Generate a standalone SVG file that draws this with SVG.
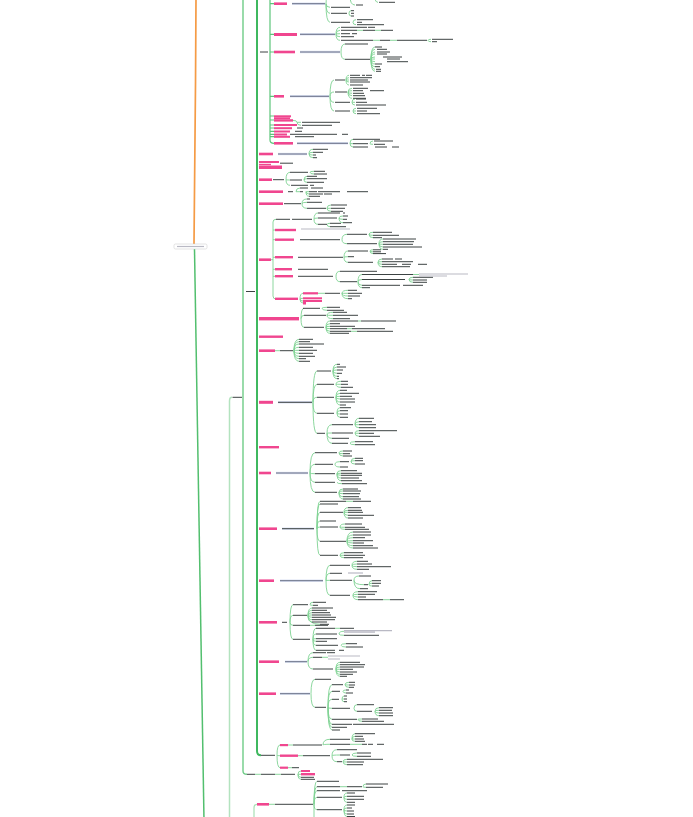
<svg xmlns="http://www.w3.org/2000/svg" width="693" height="817" viewBox="0 0 693 817">
<style>
.t{stroke:#3c4343;stroke-width:1;fill:none}
.g{stroke:#7fd393;stroke-width:0.9;fill:none}
.u{stroke:#dce2f4;stroke-width:2.4;fill:none}
.v{stroke:#4a5068;stroke-width:0.8;fill:none}
.x{stroke:#b9b9c4;stroke-width:1.2;fill:none}
.p{fill:#f0468f}
</style>
<rect width="693" height="817" fill="#ffffff"/>
<g id="connectors">
<path d="M196 -2C195.6 80 195 170 194 244" stroke="#f59b45" stroke-width="1.7" fill="none"/>
<path d="M194.5 249C196 400 200 600 204 820" stroke="#52bf6e" stroke-width="1.5" fill="none"/>
<path d="M232 397.3Q229.5 397.3 229.5 401V820" stroke="#b3e3bf" stroke-width="1.5" fill="none"/>
<path d="M243 -2V771Q243 774.3 247 774.3" stroke="#6fcc87" stroke-width="1.4" fill="none"/>
<path d="M257 -2V751Q257 755.3 261 755.3" stroke="#3fb85f" stroke-width="2" fill="none"/>
<path d="M270 -2V140Q270 143.3 274 143.3M270 3.7H274M270 34.3H274M270 52H274M270 96.3H274M270 116H274M270 120H274M270 125H274M270 128H274M270 131.3H274M270 134.3H274M270 136.7H274" stroke="#5cc57a" stroke-width="1.2" fill="none"/>
<path d="M257 804.3Q254 804.3 254 808V820" stroke="#a8e0b5" stroke-width="1.2" fill="none"/>
<path class="t" d="M232.5 397.3H242M246 291.5H255M260 52H268"/>
</g>
<g id="root">
<rect x="174" y="244" width="33" height="5" rx="1.5" fill="#ffffff" stroke="#d0d0d0" stroke-width="0.6"/>
<path class="x" d="M177 246.5H204" stroke-width="1"/>
</g>
<g id="n-a">
<rect class="p" x="274" y="2.4" width="13" height="2.6"/>
<path class="u" d="M292 3.7H325"/><path class="v" d="M292 3.7H325"/>
<path class="g" d="M326 3.7Q326 -4 330 -4M326 3.7Q326 7.3 330 7.3M326 3.7Q326 13.3 330 13.3M326 3.7Q326 22.3 330 22.3M349 13.3Q349 10.7 351 10.7M349 13.3Q349 16 351 16M353 22.3Q353 19.7 356 19.7M353 22.3Q353 24.7 356 24.7M350 -4Q350 5 355 5M375 -3Q375 2.3 378 2.3"/>
<path class="t" d="M331 7.3H350M331 13.3H347M351 10.7H354M351 13.3H354M351 16H354M331 22.3H350M357 19.7H373M357 22.3H362M357 24.7H384M356 5H363M379 2.3H395"/>
</g>
<g id="n-b">
<rect class="p" x="274" y="33" width="23" height="3"/>
<path class="u" d="M300 34.3H335"/><path class="v" d="M300 34.3H335"/>
<path class="g" d="M336 34.3Q336 27.3 340 27.3M336 34.3Q336 30.3 340 30.3M336 34.3Q336 33.7 340 33.7M336 34.3Q336 36.7 340 36.7M336 34.3Q336 40.3 340 40.3M428 40.3Q428 39.3 431 39.3M428 40.3Q428 41.7 431 41.7M373 40.3H380M390 40.3H397M357 30.3H363M375 30.3H381"/>
<path class="t" d="M341 27.3H367M368 27.3H375M341 30.3H357M363 30.3H375M381 30.3H393M341 33.7H350M352 33.7H357M341 36.7H354M341 40.3H373M380 40.3H390M397 40.3H427M432 39.3H453M432 41.7H437"/>
</g>
<g id="n-c">
<rect class="p" x="274" y="50.7" width="21" height="2.6"/>
<path class="u" d="M300 52H340"/><path class="v" d="M300 52H340"/>
<path class="g" d="M341 52Q341 44 345 44M341 52Q341 59.3 345 59.3M371 59.3Q371 47 375 47M371 59.3Q371 49.3 375 49.3M371 59.3Q371 52 375 52M371 59.3Q371 54 375 54M371 59.3Q371 57 375 57M371 59.3Q371 59 375 59M371 59.3Q371 61.7 375 61.7M371 59.3Q371 64 375 64M371 59.3Q371 66.7 375 66.7M371 59.3Q371 69.3 375 69.3M371 59.3Q371 71.3 375 71.3"/>
<path class="t" d="M345 44H368M345 59.3H370M375 47H382M377 49.3H387M377 52H390M377 54H387M383 57H402M387 59H400M387 61.7H408M375 64H382M375 66.7H380M376 69.3H381M376 71.3H381"/>
</g>
<g id="n-d">
<rect class="p" x="274" y="95" width="10" height="2.6"/>
<path class="u" d="M290 96.3H329"/><path class="v" d="M290 96.3H329"/>
<path class="g" d="M330 96.3Q330 80 334 80M330 96.3Q330 92 334 92M330 96.3Q330 102.3 334 102.3M330 96.3Q330 111 334 111M346 80Q346 75.3 349 75.3M346 80Q346 77.7 349 77.7M346 80Q346 80 349 80M346 80Q346 82 349 82M346 80Q346 85 349 85M348 92Q348 88.3 352 88.3M348 92Q348 90.7 352 90.7M348 92Q348 93.3 352 93.3M348 92Q348 95.7 352 95.7M348 92Q348 98.3 352 98.3M352 102.3Q352 99 355 99M352 102.3Q352 102.3 355 102.3M352 102.3Q352 105 355 105M353 111Q353 108.3 356 108.3M353 111Q353 111 356 111M353 111Q353 113.7 356 113.7"/>
<path class="t" d="M335 80H345M350 75.3H360M362 75.3H365M366 75.3H372M350 77.7H372M350 80H368M350 82H370M350 85H363M335 92H347M353 88.3H368M353 90.7H363M370 90.7H384M353 93.3H364M353 95.7H365M353 98.3H366M335 102.3H350M356 99H366M356 102.3H367M356 105H386M335 111H350M357 108.3H377M357 111H367M357 113.7H380"/>
</g>
<g id="n-stack">
<rect class="p" x="274" y="115.3" width="17" height="2"/>
<rect class="p" x="274" y="117.3" width="16" height="1.8"/>
<rect class="p" x="274" y="119.2" width="19" height="2.4"/>
<rect class="p" x="274" y="124" width="23" height="2"/>
<rect class="p" x="274" y="127.2" width="18" height="2"/>
<rect class="p" x="274" y="130.5" width="16" height="2"/>
<rect class="p" x="274" y="133.5" width="13" height="2"/>
<rect class="p" x="274" y="135.8" width="16" height="2"/>
<path class="g" d="M293 120.4Q297 120.4 297 122.3H301M297 122.3Q297 125.3 301 125.3"/>
<path class="t" d="M302 122.3H340M302 125.3H332M297 128H303M295 131.3H302M290 134.3H337M342 134.3H348M295 136.7H314"/>
</g>
<g id="n-e">
<rect class="p" x="274" y="142" width="19" height="2.6"/>
<path class="u" d="M297 143.3H348"/><path class="v" d="M297 143.3H348"/>
<path class="g" d="M350 143.3Q350 139.3 353 139.3M350 143.3Q350 143.7 353 143.7M350 143.3Q350 147 353 147M370 143.7Q370 141 373 141M370 143.7Q370 144.3 373 144.3"/>
<path class="t" d="M353 139.3H380M353 143.7H368M374 141H393M374 144.3H385M353 147H368M375 147H387M392 147H399"/>
</g>
<g id="n-154">
<rect class="p" x="259" y="152.7" width="14" height="2.6"/>
<path class="u" d="M278 154H307"/><path class="v" d="M278 154H307"/>
<path class="g" d="M309 154Q309 149.3 313 149.3M309 154Q309 152.3 313 152.3M309 154Q309 155 313 155M309 154Q309 157.7 313 157.7"/>
<path class="t" d="M313 149.3H328M313 152.3H323M313 155H316M313 157.7H317"/>
</g>
<g id="n-165">
<rect class="p" x="259" y="161" width="20" height="2"/>
<rect class="p" x="259" y="163.8" width="12" height="1.4"/>
<rect class="p" x="259" y="165.5" width="23" height="3.5"/>
<path class="t" d="M280 163.2H293"/>
</g>
<g id="n-180">
<rect class="p" x="259" y="178.4" width="13" height="2.6"/>
<path class="g" d="M286 179.7Q286 172.3 290 172.3M286 179.7Q286 180 290 180M286 179.7Q286 185.3 290 185.3M310 172.3Q310 171.3 314 171.3M310 172.3Q310 174 314 174M304 180Q304 176.3 307 176.3M304 180Q304 178.7 307 178.7M304 180Q304 182.3 307 182.3"/>
<path class="t" d="M273 179.7H284M290 172.3H308M314 171.3H325M314 174H327M290 180H302M307 176.3H317M307 178.7H327M307 182.3H324M291 185.3H308M310 185.3H314"/>
</g>
<g id="n-192">
<rect class="p" x="259" y="190.4" width="24" height="2.6"/>
<path class="g" d="M296 191.7Q296 188 300 188M296 191.7Q296 191.7 300 191.7M306 191.7Q306 191.7 309 191.7M306 191.7Q306 194 309 194M306 191.7Q306 196.3 309 196.3"/>
<path class="t" d="M288 191.7H293M300 188H308M311 188H323M300 191.7H303M309 191.7H317M318 191.7H340M347 191.7H368M309 194H323M324 194H332M309 196.3H320"/>
</g>
<g id="n-204">
<rect class="p" x="259" y="202.4" width="24" height="2.6"/>
<path class="g" d="M302 203.7Q302 199 307 199M302 203.7Q302 202.3 307 202.3M302 203.7Q302 208.3 307 208.3M327 208.3Q327 205 331 205M327 208.3Q327 208.3 331 208.3M327 208.3Q327 211.3 331 211.3"/>
<path class="t" d="M284 203.7H301M307 199H310M307 202.3H322M307 208.3H326M331 205H347M331 208.3H345M331 211.3H343"/>
</g>
<g id="n-260">
<rect class="p" x="259" y="258.4" width="12" height="2.6"/>
<path class="g" d="M271 259.7H273M276 219.3Q273 219.3 273 222V296Q273 299 276 299M273 230H275M273 239.7H275M273 257.3H275M273 269.3H275M273 276.3H275"/>
<path class="g" d="M314 219.3Q314 213 318 213M314 219.3Q314 218 318 218M314 219.3Q314 224.3 318 224.3M339 218Q339 216 343 216M339 218Q339 219.3 343 219.3M339 218Q339 222.7 343 222.7M327 224.3Q327 223.3 330 223.3M327 224.3Q327 226.7 330 226.7"/>
<path class="t" d="M276 219.3H290M292 219.3H312M318 213H340M343 213H345M318 218H337M343 216H348M343 219.3H347M343 222.7H352M318 224.3H327M330 223.3H341M330 226.7H346"/>
<rect class="p" x="275" y="228.8" width="21" height="2.4"/>
<path class="x" d="M301 229H350"/>
<rect class="p" x="275" y="238.5" width="19" height="2.4"/>
<path class="g" d="M342 239.7Q342 234.3 347 234.3M342 239.7Q342 243.7 347 243.7M369 234.3Q369 232.3 373 232.3M369 234.3Q369 235.3 373 235.3M369 234.3Q369 237.7 373 237.7M379 243.7Q379 239 383 239M379 243.7Q379 241.7 383 241.7M379 243.7Q379 244.3 383 244.3M379 243.7Q379 247 383 247M379 243.7Q379 249.3 383 249.3"/>
<path class="t" d="M300 239.7H340M347 234.3H367M373 232.3H392M373 235.3H399M373 237.7H382M347 243.7H377M383 239H416M383 241.7H414M383 244.3H413M383 247H422M383 249.3H388"/>
<rect class="p" x="275" y="256" width="18" height="2.4"/>
<path class="g" d="M344 257.3Q344 251 348 251M344 257.3Q344 256.7 348 256.7M344 257.3Q344 262.3 348 262.3M370 251Q370 249.8 373 249.8M370 251Q370 251.8 373 251.8M370 251Q370 253.6 373 253.6M378 262.3Q378 259 382 259M378 262.3Q378 261.7 382 261.7M378 262.3Q378 264.3 382 264.3M378 262.3Q378 266.7 382 266.7"/>
<path class="t" d="M298 257.3H343M348 251H368M373 249.8H381M373 251.8H381M373 253.6H386M348 256.7H354M348 262.3H373M382 259H393M395 259H402M382 261.7H413M382 264.3H397M402 264.3H411M418 264.3H427M382 266.7H410"/>
<rect class="p" x="275" y="268" width="17" height="2.4"/>
<path class="t" d="M298 269.3H328"/>
<rect class="p" x="275" y="275" width="18" height="2.4"/>
<path class="g" d="M336 276.3Q336 271.3 340 271.3M336 276.3Q336 281.7 340 281.7M358 281.7Q358 274.5 362 274.5M358 281.7Q358 279.5 362 279.5M358 281.7Q358 285.3 362 285.3M358 281.7Q358 287.7 362 287.7M409 279.5Q409 277.3 413 277.3M409 279.5Q409 280 413 280M409 279.5Q409 282.3 413 282.3M413 274.5H419"/>
<path class="t" d="M298 276.3H333M340 271.3H377M340 281.7H357M362 274.5H413M362 279.5H405M413 277.3H433M413 280H427M413 282.3H427M362 285.3H400M403 285.3H423M362 287.7H370"/>
<path class="x" d="M419 274H468M419 276H447"/>
<rect class="p" x="275" y="297.6" width="23" height="2.4"/>
<path class="g" d="M300 299Q300 293.3 303 293.3M300 299Q300 298.3 303 298.3M300 299Q300 301 303 301M300 299Q300 303 303 303M318 293.3H325M342 293.3Q342 290.3 348 290.3M342 293.3Q342 293.3 348 293.3M342 293.3Q342 296 348 296M342 293.3Q342 298.7 348 298.7"/>
<rect class="p" x="303" y="292.2" width="15" height="2.2"/>
<rect class="p" x="303" y="297.3" width="19" height="2"/>
<rect class="p" x="303" y="300" width="19" height="2"/>
<rect class="p" x="303" y="302" width="3" height="2.5"/>
<path class="t" d="M325 293.3H340M348 290.3H357M348 293.3H362M348 296H360M348 298.7H352"/>
</g>
<g id="n-318">
<rect class="p" x="259" y="317" width="40" height="3.4"/>
<path class="g" d="M301 318.7Q301 308.3 304 308.3M301 318.7Q301 315.3 304 315.3M301 318.7Q301 327.3 304 327.3M322 308.3Q322 307.3 327 307.3M322 308.3Q322 310.3 327 310.3M327 315.3Q327 312.3 333 312.3M327 315.3Q327 315.3 333 315.3M327 315.3Q327 318.7 333 318.7M326 327.3Q326 321 330 321M326 327.3Q326 323.7 330 323.7M326 327.3Q326 326.3 330 326.3M326 327.3Q326 328.7 330 328.7M326 327.3Q326 331.3 330 331.3M326 327.3Q326 333.3 330 333.3M358 321H361M347 328.7H352M351 331.3H357"/>
<path class="t" d="M303 308.3H320M327 307.3H340M327 310.3H344M304 315.3H326M333 312.3H347M333 315.3H358M333 318.7H350M304 327.3H324M330 321H358M361 321H396M330 323.7H340M330 326.3H355M330 328.7H347M352 328.7H385M330 331.3H351M357 331.3H393M330 333.3H349"/>
</g>
<g id="n-337">
<rect class="p" x="259" y="335.5" width="24" height="2.4"/>
</g>
<g id="n-351">
<rect class="p" x="259" y="349.4" width="16" height="2.6"/>
<path class="g" d="M275 350.7H280M294 350.7Q294 339.3 299 339.3M294 350.7Q294 341.7 299 341.7M294 350.7Q294 344 299 344M294 350.7Q294 347.3 299 347.3M294 350.7Q294 350.3 299 350.3M294 350.7Q294 353.3 299 353.3M294 350.7Q294 356.3 299 356.3M294 350.7Q294 358.7 299 358.7M294 350.7Q294 361.3 299 361.3"/>
<path class="t" d="M280 350.7H293M299 339.3H313M299 341.7H310M299 344H324M299 347.3H313M299 350.3H317M299 353.3H313M299 356.3H315M299 358.7H306M299 361.3H310"/>
</g>
<g id="n-402">
<rect class="p" x="259" y="400.8" width="14" height="3"/>
<path class="u" d="M278 402.3H312"/>
<path class="g" d="M313 402.3Q313 371 317 371M313 402.3Q313 384.3 317 384.3M313 402.3Q313 397.3 317 397.3M313 402.3Q313 413.3 317 413.3M313 402.3Q313 433.3 317 433.3M333 371Q333 364.3 337 364.3M333 371Q333 367 337 367M333 371Q333 370 337 370M333 371Q333 373.3 337 373.3M333 371Q333 376.3 337 376.3M333 371Q333 378.7 337 378.7M336 384.3Q336 381.3 341 381.3M336 384.3Q336 384.3 341 384.3M336 384.3Q336 387.3 341 387.3M336 397.3Q336 390.3 340 390.3M336 397.3Q336 393.3 340 393.3M336 397.3Q336 396.3 340 396.3M336 397.3Q336 399 340 399M336 397.3Q336 402 340 402M336 397.3Q336 405 340 405M337 413.3Q337 407.7 340 407.7M337 413.3Q337 410.7 340 410.7M337 413.3Q337 414 340 414M337 413.3Q337 417.3 340 417.3M327 433.3Q327 424.7 332 424.7M327 433.3Q327 433 332 433M327 433.3Q327 438.3 332 438.3M327 433.3Q327 443.3 332 443.3M355 424.7Q355 418.3 359 418.3M355 424.7Q355 421.7 359 421.7M355 424.7Q355 424.7 359 424.7M355 424.7Q355 427.7 359 427.7M355 433Q355 430.7 359 430.7M355 433Q355 433.3 359 433.3M355 433Q355 436.3 359 436.3M350 443.3Q350 441.7 355 441.7M350 443.3Q350 444.7 355 444.7"/>
<path class="t" d="M278 402.3H312M317 371H331M337 364.3H340M337 367H346M337 370H343M337 373.3H342M337 376.3H339M337 378.7H339M317 384.3H334M341 381.3H348M341 384.3H348M341 387.3H353M317 397.3H334M340 390.3H347M340 393.3H359M340 396.3H352M340 399H355M340 402H355M340 405H346M317 413.3H334M340 407.7H351M340 410.7H348M340 414H348M340 417.3H348M317 433.3H325M332 424.7H353M359 418.3H374M359 421.7H372M359 424.7H376M359 427.7H376M332 433H353M359 430.7H397M359 433.3H374M359 436.3H380M332 438.3H349M332 443.3H348M355 441.7H373M355 444.7H375"/>
</g>
<g id="n-447">
<rect class="p" x="259" y="446" width="20" height="2.4"/>
</g>
<g id="n-473">
<rect class="p" x="259" y="471.7" width="12" height="2.6"/>
<path class="u" d="M276 473H308"/><path class="v" d="M276 473H308"/>
<path class="g" d="M310 473Q310 452.7 315 452.7M310 473Q310 464.3 315 464.3M310 473Q310 473.7 315 473.7M310 473Q310 482.3 315 482.3M310 473Q310 492.3 315 492.3M339 452.7Q339 451 343 451M339 452.7Q339 453.7 343 453.7M339 452.7Q339 456 343 456M335 464.3Q335 461.7 340 461.7M335 464.3Q335 467 340 467M351 461.7Q351 458.3 355 458.3M351 461.7Q351 460.7 355 460.7M351 461.7Q351 464 355 464M337 473.7Q337 470.7 341 470.7M337 473.7Q337 473.3 341 473.3M337 473.7Q337 475.3 341 475.3M337 473.7Q337 478 341 478M337 473.7Q337 480.7 341 480.7M337 482.3Q337 483.7 342 483.7M339 492.3Q339 489 343 489M339 492.3Q339 491 343 491M339 492.3Q339 493.7 343 493.7M339 492.3Q339 496.7 343 496.7M339 492.3Q339 499 343 499"/>
<path class="t" d="M315 452.7H337M343 451H352M343 453.7H350M343 456H352M315 464.3H333M340 461.7H349M355 458.3H363M355 460.7H363M355 464H365M340 467H348M315 473.7H335M341 470.7H357M341 473.3H362M341 475.3H362M341 478H359M341 480.7H362M315 482.3H335M342 483.7H367M315 492.3H337M343 489H358M343 491H361M343 493.7H360M343 496.7H359M343 499H361"/>
</g>
<g id="n-528">
<rect class="p" x="259" y="527.4" width="18" height="2.6"/>
<path class="u" d="M282 528.7H314"/>
<path class="g" d="M317 528.7Q317 501.3 320 501.3M317 528.7Q317 504 320 504M317 528.7Q317 512.3 320 512.3M317 528.7Q317 521 320 521M317 528.7Q317 527 320 527M317 528.7Q317 541.3 320 541.3M317 528.7Q317 555.3 320 555.3M344 512.3Q344 507.7 348 507.7M344 512.3Q344 510.3 348 510.3M344 512.3Q344 512.3 348 512.3M344 512.3Q344 515.3 348 515.3M344 512.3Q344 518 348 518M340 527Q340 524 345 524M340 527Q340 527.3 345 527.3M340 527Q340 529.3 345 529.3M347 541.3Q347 532 353 532M347 541.3Q347 535 353 535M347 541.3Q347 537.7 353 537.7M347 541.3Q347 540.7 353 540.7M347 541.3Q347 543 353 543M347 541.3Q347 545.7 353 545.7M347 541.3Q347 548 353 548M340 555.3Q340 552.7 344 552.7M340 555.3Q340 555.3 344 555.3M340 555.3Q340 557.7 344 557.7M346 501.3H353"/>
<path class="t" d="M282 528.7H314M320 501.3H346M353 501.3H371M320 504H338M320 512.3H343M348 507.7H361M348 510.3H362M348 512.3H363M348 515.3H374M348 518H363M320 521H336M320 527H338M345 524H362M345 527.3H365M345 529.3H369M320 541.3H346M353 532H371M353 535H371M353 537.7H365M353 540.7H373M353 543H364M353 545.7H373M353 548H378M320 555.3H338M344 552.7H363M344 555.3H365M344 557.7H363"/>
</g>
<g id="n-581">
<rect class="p" x="259" y="579.4" width="15" height="2.6"/>
<path class="u" d="M280 580.7H323"/><path class="v" d="M280 580.7H323"/>
<path class="g" d="M326 580.7Q326 565.3 330 565.3M326 580.7Q326 573.3 330 573.3M326 580.7Q326 580.3 330 580.3M326 580.7Q326 595.3 330 595.3M352 565.3Q352 561.3 357 561.3M352 565.3Q352 564 357 564M352 565.3Q352 566.7 357 566.7M352 565.3Q352 569.3 357 569.3M354 580.3Q354 576 359 576M354 580.3Q354 584.7 364 584.7M354 580.3Q354 588.7 360 588.7M369 584.7Q369 580.7 372 580.7M369 584.7Q369 583.3 372 583.3M369 584.7Q369 586 372 586M353 595.3Q353 591.7 358 591.7M353 595.3Q353 594.3 358 594.3M353 595.3Q353 597 358 597M353 595.3Q353 599.7 358 599.7M383 599.7H390"/>
<path class="t" d="M330 565.3H350M357 561.3H368M357 564H372M357 566.7H391M357 569.3H369M330 573.3H342M330 580.3H352M359 576H371M364 584.7H368M372 580.7H381M372 583.3H381M372 586H379M360 588.7H368M330 595.3H350M358 591.7H377M358 594.3H375M358 597H366M358 599.7H383M390 599.7H404"/>
<path class="x" d="M348 573H363"/>
</g>
<g id="n-622">
<rect class="p" x="259" y="621" width="18" height="2.6"/>
<path class="g" d="M290 622.3Q290 604.7 293 604.7M290 622.3Q290 615.3 293 615.3M290 622.3Q290 625.3 293 625.3M290 622.3Q290 639.3 293 639.3M310 604.7Q310 602.3 313 602.3M310 604.7Q310 605.3 313 605.3M308 615.3Q308 608 312 608M308 615.3Q308 610.3 312 610.3M308 615.3Q308 612.7 312 612.7M308 615.3Q308 615 312 615M308 615.3Q308 617.3 312 617.3M308 615.3Q308 619.7 312 619.7M308 615.3Q308 622 312 622M308 615.3Q308 624.3 320 624.3M313 639.3Q313 628.3 316 628.3M313 639.3Q313 634 316 634M313 639.3Q313 638.7 316 638.7M313 639.3Q313 641.3 316 641.3M313 639.3Q313 645.3 316 645.3M313 639.3Q313 650.3 316 650.3M339 634Q339 631.3 344 631.3M339 634Q339 635.3 344 635.3M341 645.3Q341 643.7 346 643.7M341 645.3Q341 647 346 647M310 625.3H315M335 628.3H340"/>
<path class="t" d="M282 622.3H287M293 604.7H308M313 602.3H326M313 605.3H318M293 615.3H307M312 608H333M312 610.3H327M312 612.7H330M312 615H331M312 617.3H336M312 619.7H335M312 622H327M320 624.3H329M293 625.3H310M315 625.3H328M293 639.3H310M316 628.3H335M340 628.3H354M316 634H337M344 635.3H379M316 638.7H337M316 641.3H327M316 645.3H338M346 643.7H357M346 647H363M316 650.3H335M339 650.3H344"/>
<path class="x" d="M344 630.6H392M344 632.2H375"/>
</g>
<g id="n-662">
<rect class="p" x="259" y="660.4" width="20" height="2.6"/>
<path class="u" d="M285 661.7H307"/><path class="v" d="M285 661.7H307"/>
<path class="g" d="M308 661.7Q308 652.7 313 652.7M308 661.7Q308 657.3 313 657.3M308 661.7Q308 669 313 669M336 669Q336 662.3 340 662.3M336 669Q336 664.7 340 664.7M336 669Q336 667 340 667M336 669Q336 669.3 340 669.3M336 669Q336 672 340 672M336 669Q336 674.3 340 674.3M336 669Q336 676.3 340 676.3M322 657.3H328"/>
<path class="t" d="M313 652.7H326M327 652.7H335M313 657.3H322M313 669H333M340 662.3H360M340 664.7H365M340 667H364M340 669.3H353M340 672H357M340 674.3H353M340 676.3H347"/>
<path class="x" d="M328 656H360M328 659H340"/>
</g>
<g id="n-694">
<rect class="p" x="259" y="692.4" width="17" height="2.6"/>
<path class="u" d="M280 693.7H310"/><path class="v" d="M280 693.7H310"/>
<path class="g" d="M311 693.7Q311 679.3 315 679.3M311 693.7Q311 707.3 315 707.3M328 707.3Q328 684.7 332 684.7M328 707.3Q328 691.3 332 691.3M328 707.3Q328 699.3 332 699.3M328 707.3Q328 708.3 332 708.3M328 707.3Q328 719.3 332 719.3M328 707.3Q328 724.3 332 724.3M328 707.3Q328 727.3 332 727.3M328 707.3Q328 730 332 730M345 684.7Q345 682.3 349 682.3M345 684.7Q345 685 349 685M345 684.7Q345 687.3 349 687.3M343 691.3Q343 690 346 690M343 691.3Q343 693 346 693M342 699.3Q342 696 344 696M342 699.3Q342 699 344 699M342 699.3Q342 701.7 344 701.7M354 708.3Q354 704.7 357 704.7M354 708.3Q354 711.3 357 711.3M375 711.3Q375 707.7 379 707.7M375 711.3Q375 710.3 379 710.3M375 711.3Q375 713 379 713M375 711.3Q375 715.7 379 715.7M358 719.3Q358 719 362 719M358 719.3Q358 721.3 362 721.3"/>
<path class="t" d="M315 679.3H331M315 707.3H326M332 684.7H343M349 682.3H355M349 685H355M349 687.3H354M332 691.3H340M346 690H349M346 693H353M332 699.3H339M344 696H347M344 699H347M344 701.7H347M332 708.3H350M357 704.7H374M357 711.3H372M379 707.7H393M379 710.3H392M379 713H393M379 715.7H393M332 719.3H357M362 719H378M362 721.3H384M332 724.3H352M353 724.3H394M332 727.3H347M332 730H340"/>
</g>
<g id="n-755">
<path class="g" d="M277 755.3Q277 745 280 745M277 755.3Q277 755.7 280 755.7M277 755.3Q277 767.7 280 767.7M288 745H293M323 745Q323 739.3 330 739.3M323 745Q323 744.3 330 744.3M352 739.3Q352 733.7 355 733.7M352 739.3Q352 736.3 355 736.3M352 739.3Q352 739 355 739M352 739.3Q352 741.3 355 741.3M298 755.7H303M332 755.7Q332 749.7 337 749.7M332 755.7Q332 755 340 755M332 755.7Q332 761.7 337 761.7M352 755Q352 753 357 753M352 755Q352 756.3 357 756.3M343 761.7Q343 759.3 347 759.3M343 761.7Q343 762 347 762M343 761.7Q343 764.7 347 764.7M288 767.7H292M350 744.3H362"/>
<rect class="p" x="280" y="744" width="8" height="2.2"/>
<rect class="p" x="280" y="754.5" width="18" height="2.4"/>
<rect class="p" x="280" y="766.6" width="8" height="2.2"/>
<path class="t" d="M261 755.3H275M293 745H322M330 739.3H350M355 733.7H375M355 736.3H363M355 739H364M355 741.3H365M330 744.3H350M362 744.3H367M368 744.3H373M377 744.3H384M303 755.7H330M337 749.7H357M340 755H350M357 753H371M357 756.3H371M337 761.7H342M347 759.3H383M347 762H364M347 764.7H363M292 767.7H299"/>
</g>
<g id="n-774">
<path class="g" d="M255 774.3H261M275 774.3H281M298 774.3Q298 771 301 771M298 774.3Q298 774.3 301 774.3M298 774.3Q298 777.3 301 777.3M298 774.3Q298 779.3 301 779.3"/>
<path class="t" d="M247 774.3H255M261 774.3H275M281 774.3H295M301 777.3H314M301 779.3H315"/>
<rect class="p" x="301" y="770" width="9" height="2"/>
<rect class="p" x="301" y="773" width="14" height="2.4"/>
</g>
<g id="n-804">
<rect class="p" x="257" y="803" width="12" height="2.6"/>
<path class="g" d="M269 804.3H275M314 804.3Q314 781.3 317 781.3M314 804.3Q314 786.7 317 786.7M314 804.3Q314 790.7 317 790.7M314 804.3Q314 797.3 317 797.3M314 804.3Q314 809.7 317 809.7M314 804.3V820M340 786.7H347M363 786.7Q363 784 366 784M363 786.7Q363 787.3 366 787.3M344 797.3Q344 793 347 793M344 797.3Q344 796.3 347 796.3M344 797.3Q344 799.3 347 799.3M344 797.3Q344 802.3 347 802.3M344 809.7Q344 805 347 805M344 809.7Q344 808 347 808M344 809.7Q344 811 347 811M344 809.7Q344 814 347 814M344 809.7Q344 816.5 347 816.5"/>
<path class="t" d="M275 804.3H313M317 781.3H339M317 786.7H340M347 786.7H362M366 784H388M366 787.3H383M317 790.7H340M342 790.7H367M317 797.3H342M347 793H355M347 796.3H364M347 799.3H364M347 802.3H355M317 809.7H342M347 805H355M347 808H352M347 811H354M347 814H354M347 816.5H355"/>
</g>
</svg>
